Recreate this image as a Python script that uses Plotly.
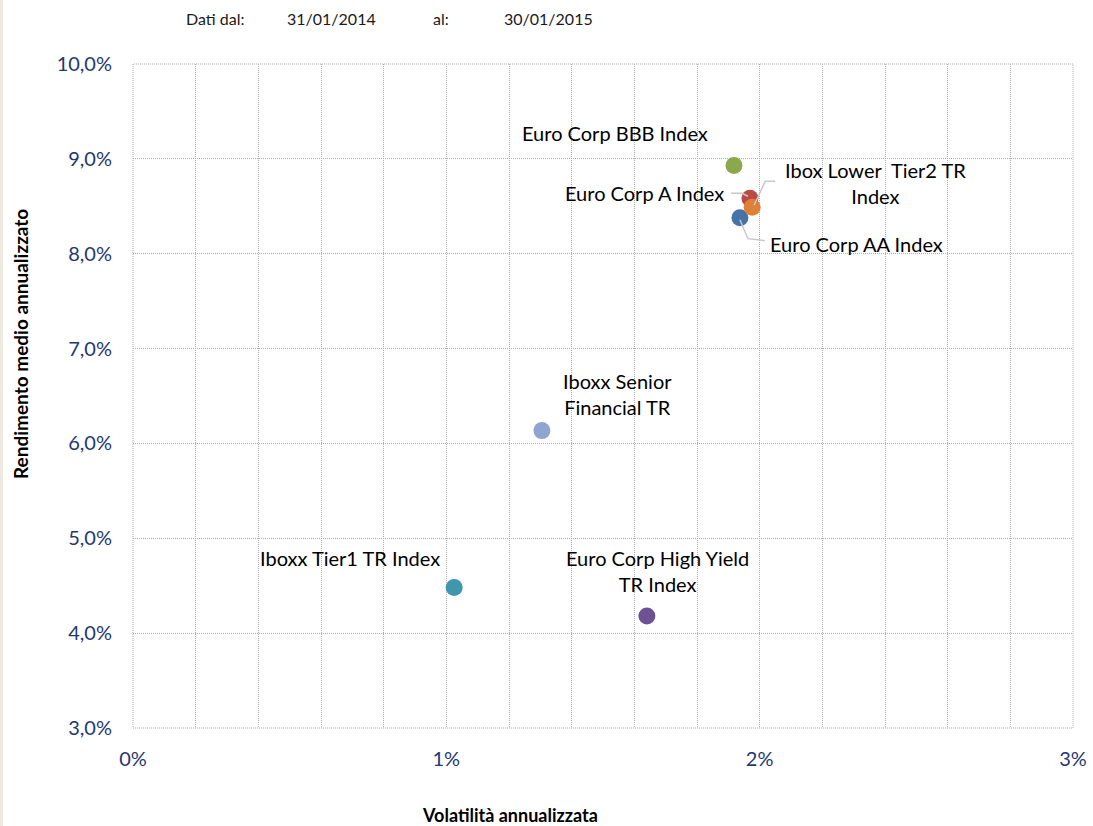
import plotly.graph_objects as go

# ---- data (percent units) ----
names = ["Euro Corp AA Index", "Euro Corp A Index", "Euro Corp BBB Index",
         "Euro Corp High Yield<br>TR Index", "Iboxx Tier1 TR Index",
         "Ibox Lower  Tier2 TR<br>Index", "Iboxx Senior<br>Financial TR"]
volatility = [1.937, 1.969, 1.918, 1.640, 1.025, 1.976, 1.305]
returns = [8.38, 8.585, 8.93, 4.18, 4.48, 8.49, 6.135]
colors = ["#4573A8", "#B84A47", "#8BA84C", "#6E5394", "#3E97AD", "#E07F36", "#8DA5CF"]

# label offsets in pixels (x right, y up) and leader lines (pixel paths relative to point)
label_dx = [117, -105, -119, 11, -104, 123, 76]
label_dy = [-26, 5, 33, 45, 30, 24, 37]
leaders = [
    "M 0,-2 L 8,-21 L 25,-23",      # AA
    "M -2,2 L -8,5 L -19,5",         # A
    None, None, None,
    "M 2,2 L 13,26 L 23,26",         # Lower Tier2
    None,
]

x_ticks = [i / 5 for i in range(16)]
x_ticktext = ["0%" if v == 0 else (f"{int(v)}%" if abs(v - round(v)) < 1e-9 else "") for v in x_ticks]
y_ticks = list(range(3, 11))
y_ticktext = [f"{v},0%" for v in y_ticks]

FONT = "Lato"
TICKCOL = "#1F3870"
GRIDCOL = "#ABABAB"
DASH = "1px,1px"

fig = go.Figure()
for n, xv, yv, c in zip(names, volatility, returns, colors):
    fig.add_trace(go.Scatter(x=[xv], y=[yv], mode="markers", name=n,
                             marker=dict(size=17, color=c, line=dict(width=0)),
                             showlegend=False))

shapes = []
for xv, yv, p in zip(volatility, returns, leaders):
    if p:
        shapes.append(dict(type="path", xref="x", yref="y", xsizemode="pixel", ysizemode="pixel",
                           xanchor=xv, yanchor=yv, path=p,
                           line=dict(color="#C8C8C8", width=1.5), layer="above"))
# dotted frame around the plot area
shapes.append(dict(type="rect", xref="paper", yref="paper", x0=0, x1=1, y0=0, y1=1,
                   line=dict(color=GRIDCOL, width=1, dash=DASH), layer="below"))
# beige strip at the left edge
shapes.append(dict(type="rect", xref="paper", yref="paper", x0=-133/940, x1=-130/940, y0=-98/664,
                   y1=1 + 64/664, fillcolor="#EEEAE0", line=dict(width=0), layer="below"))

annotations = []
for n, xv, yv, dx, dy in zip(names, volatility, returns, label_dx, label_dy):
    annotations.append(dict(x=xv, y=yv, xref="x", yref="y", text=n, showarrow=False,
                            xshift=dx, yshift=dy, font=dict(family=FONT, size=20, color="#000000")))

header = [("Dati dal:", 215), ("31/01/2014", 331), ("al:", 441), ("30/01/2015", 548)]
for t, px in header:
    annotations.append(dict(x=(px - 133) / 940, y=1 + (64 - 18) / 664, xref="paper", yref="paper",
                            text=t, showarrow=False, font=dict(family=FONT, size=16, color="#1a1a1a"),
                            xanchor="center", yanchor="middle"))

annotations.append(dict(x=(510 - 133) / 940, y=-(815 - 728) / 664, xref="paper", yref="paper",
                        text="<b>Volatilità annualizzata</b>", showarrow=False,
                        font=dict(family=FONT, size=18, color="#000000"), xanchor="center", yanchor="middle"))
annotations.append(dict(x=-(133 - 20) / 940, y=(728 - 344) / 664, xref="paper", yref="paper",
                        text="<b>Rendimento medio annualizzato</b>", showarrow=False, textangle=-90,
                        font=dict(family=FONT, size=19, color="#000000"), xanchor="center", yanchor="middle"))

grid = dict(showgrid=True, gridcolor=GRIDCOL, gridwidth=1, griddash=DASH, zeroline=False,
            showline=False, automargin=False)

fig.update_layout(
    width=1093, height=826,
    margin=dict(l=133, r=20, t=64, b=98),
    plot_bgcolor="white", paper_bgcolor="white",
    font=dict(family=FONT),
    xaxis=dict(range=[0, 3], tickvals=x_ticks, ticktext=x_ticktext, ticks="outside", ticklen=13,
               tickcolor="rgba(0,0,0,0)", tickfont=dict(family=FONT, size=20, color=TICKCOL), **grid),
    yaxis=dict(range=[3, 10], tickvals=y_ticks, ticktext=y_ticktext, ticks="outside", ticklen=16,
               tickcolor="rgba(0,0,0,0)", tickfont=dict(family=FONT, size=20, color=TICKCOL), **grid),
    shapes=shapes, annotations=annotations,
)

fig.write_html("out.html", config={"displayModeBar": False},
               post_script="document.body.style.margin='0';")
